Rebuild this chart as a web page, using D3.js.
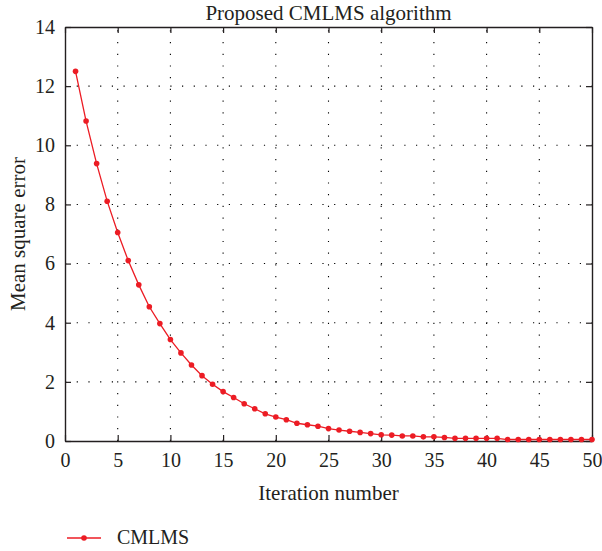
<!DOCTYPE html>
<html>
<head>
<meta charset="utf-8">
<script src="https://cdn.jsdelivr.net/npm/d3@7"></script>
<style>
  body { margin: 0; background: #fff; }
  text { font-family: "Liberation Serif", "DejaVu Serif", serif; fill: #231f20; }
</style>
</head>
<body>
<svg width="602" height="551"></svg>
<script>
const svg = d3.select("svg");

// data
const iterations = [1, 2, 3, 4, 5, 6, 7, 8, 9, 10,
  11, 12, 13, 14, 15, 16, 17, 18, 19, 20,
  21, 22, 23, 24, 25, 26, 27, 28, 29, 30,
  31, 32, 33, 34, 35, 36, 37, 38, 39, 40,
  41, 42, 43, 44, 45, 46, 47, 48, 49, 50];
const mse = [12.50, 10.82, 9.38, 8.11, 7.05, 6.10, 5.28, 4.54, 3.97, 3.43,
  2.98, 2.57, 2.21, 1.92, 1.67, 1.47, 1.26, 1.09, 0.92, 0.81,
  0.72, 0.60, 0.55, 0.50, 0.42, 0.37, 0.33, 0.29, 0.25, 0.21,
  0.20, 0.17, 0.17, 0.14, 0.14, 0.12, 0.09, 0.09, 0.09, 0.09,
  0.09, 0.05, 0.05, 0.05, 0.05, 0.05, 0.05, 0.05, 0.05, 0.05];
const xTicks = [0, 5, 10, 15, 20, 25, 30, 35, 40, 45, 50];
const yTicks = [0, 2, 4, 6, 8, 10, 12, 14];
const seriesName = 'CMLMS';

const render = () => {
  const margin = { top: 27, left: 65, width: 527, height: 414 };
  const lineColor = '#ec1c24';
  const frameColor = '#231f20';

  const data = iterations.map((d, i) => ({ x: d, y: mse[i] }));

  const xScale = d3.scaleLinear().domain([0, 50]).range([0, margin.width]);
  const yScale = d3.scaleLinear().domain([0, 14]).range([margin.height, 0]);

  const g = svg.append('g')
    .attr('transform', `translate(${margin.left},${margin.top})`);

  // dotted grid
  const grid = g.append('g')
    .attr('stroke', '#000')
    .attr('stroke-width', 1.1)
    .attr('stroke-dasharray', '1.2,10.5');

  grid.selectAll('.vgrid').data(xTicks.slice(1, -1))
    .enter().append('line')
      .attr('x1', d => xScale(d)).attr('x2', d => xScale(d))
      .attr('y1', yScale(0)).attr('y2', yScale(14));

  grid.selectAll('.hgrid').data(yTicks.slice(1, -1))
    .enter().append('line')
      .attr('x1', xScale(0)).attr('x2', xScale(50))
      .attr('y1', d => yScale(d)).attr('y2', d => yScale(d));

  // axes with inward ticks on all four sides
  const axisStyle = sel => {
    sel.selectAll('.domain').attr('stroke', frameColor).attr('stroke-width', 1.4);
    sel.selectAll('.tick line').attr('stroke', frameColor).attr('stroke-width', 1.2);
    sel.selectAll('.tick text').attr('font-size', 20)
      .attr('font-family', '"Liberation Serif", serif').attr('fill', frameColor);
  };

  const xAxisG = g.append('g')
    .attr('transform', `translate(0,${margin.height})`)
    .call(d3.axisBottom(xScale).tickValues(xTicks).tickSizeInner(-6).tickSizeOuter(0).tickPadding(12));
  axisStyle(xAxisG);

  g.append('g')
    .call(d3.axisTop(xScale).tickValues(xTicks).tickSizeInner(-6).tickSizeOuter(0).tickFormat(''))
    .call(axisStyle);

  const yAxisG = g.append('g')
    .call(d3.axisLeft(yScale).tickValues(yTicks).tickSizeInner(-6).tickSizeOuter(0).tickPadding(10));
  axisStyle(yAxisG);

  g.append('g')
    .attr('transform', `translate(${margin.width},0)`)
    .call(d3.axisRight(yScale).tickValues(yTicks).tickSizeInner(-6).tickSizeOuter(0).tickFormat(''))
    .call(axisStyle);

  // line and markers
  const line = d3.line().x(d => xScale(d.x)).y(d => yScale(d.y));

  g.append('path')
    .datum(data)
    .attr('d', line)
    .attr('fill', 'none')
    .attr('stroke', lineColor)
    .attr('stroke-width', 1.3);

  g.selectAll('.dot').data(data)
    .enter().append('circle')
      .attr('cx', d => xScale(d.x))
      .attr('cy', d => yScale(d.y))
      .attr('r', 2.8)
      .attr('fill', lineColor);

  // texts
  svg.append('text')
    .text('Proposed CMLMS algorithm')
    .attr('x', margin.left + margin.width / 2)
    .attr('y', 20)
    .attr('text-anchor', 'middle')
    .attr('font-size', 21);

  svg.append('text')
    .text('Iteration number')
    .attr('x', margin.left + margin.width / 2)
    .attr('y', 500)
    .attr('text-anchor', 'middle')
    .attr('font-size', 21);

  svg.append('text')
    .text('Mean square error')
    .attr('transform', 'rotate(-90)')
    .attr('x', -(margin.top + margin.height / 2))
    .attr('y', 25)
    .attr('text-anchor', 'middle')
    .attr('font-size', 21);

  // legend
  const legend = svg.append('g')
    .attr('transform', 'translate(67,538)');

  legend.append('line')
    .attr('x1', 0).attr('x2', 34)
    .attr('stroke', lineColor)
    .attr('stroke-width', 1.3);

  legend.append('circle')
    .attr('cx', 17)
    .attr('r', 2.8)
    .attr('fill', lineColor);

  legend.append('text')
    .text(seriesName)
    .attr('x', 50)
    .attr('y', 6)
    .attr('font-size', 20);
};

render();
</script>
</body>
</html>
